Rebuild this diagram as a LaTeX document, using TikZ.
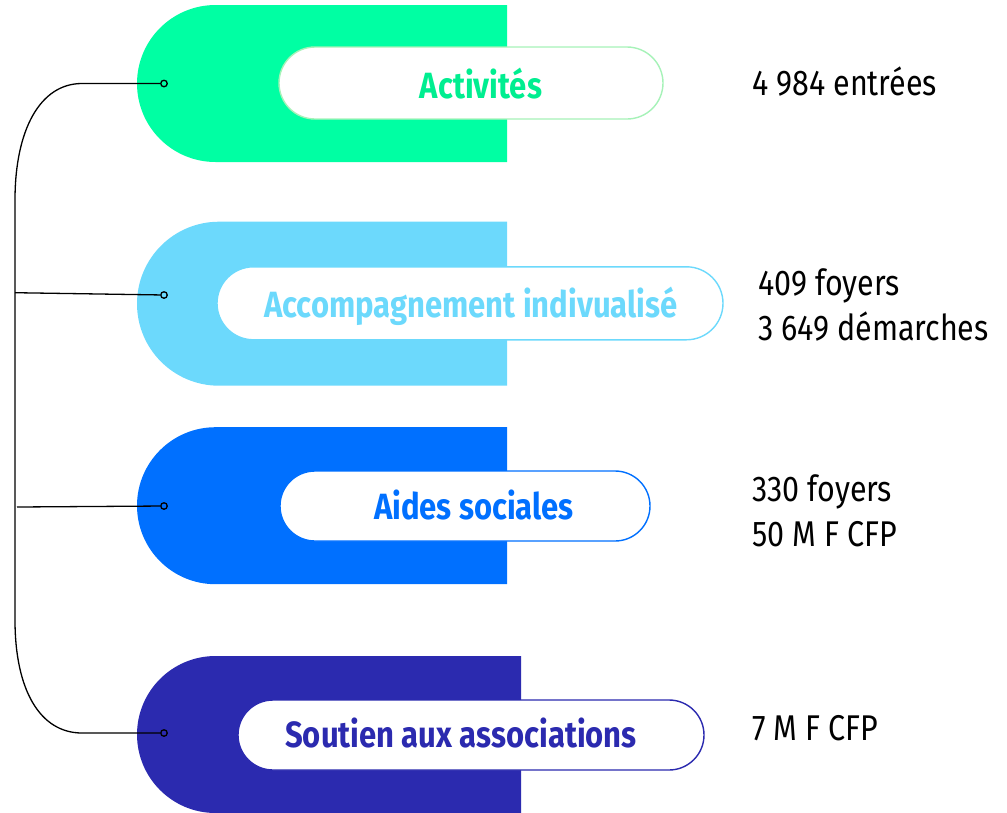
\documentclass[tikz,border=0pt]{standalone}
\usepackage{fontspec}
\setmainfont{Fira Sans}[FakeStretch=0.85]
\usetikzlibrary{shapes.misc}
\definecolor{cGreen}{HTML}{00FFA3}
\definecolor{cGreenT}{HTML}{00EE90}
\definecolor{cGreenL}{HTML}{A6F2B8}
\definecolor{cLight}{HTML}{6CD9FC}
\definecolor{cBlue}{HTML}{0070FF}
\definecolor{cDark}{HTML}{2B2AAF}
\tikzset{
  bigshape/.style={rounded rectangle, rounded rectangle right arc=none, inner sep=0pt, fill=#1, draw=none},
  pill/.style={rounded rectangle, inner sep=0pt, fill=white, draw=#1, line width=1.4pt},
  lab/.style={anchor=base, text=#1, font=\fontsize{36.5}{40}\selectfont\bfseries, inner sep=0pt},
  val/.style={anchor=base west, font=\fontsize{35.8}{45}\selectfont, inner sep=0pt, align=left},
  dot/.style={circle, draw=black, line width=1.3pt, inner sep=0pt, minimum size=6.5pt, fill=none},
  conn/.style={draw=black, line width=1.3pt}
}
\begin{document}
\begin{tikzpicture}[x=1pt,y=-1pt]
\useasboundingbox (0,0) rectangle (1007,812);
\clip (0,0) rectangle (1007,812);
% big shapes
\node[bigshape=cGreen, minimum width=370pt, minimum height=157pt] (s1) at (322,83.5) {};
\node[bigshape=cLight, minimum width=370pt, minimum height=164pt] (s2) at (322,303.7) {};
\node[bigshape=cBlue, minimum width=370pt, minimum height=157pt] (s3) at (322,505.7) {};
\node[bigshape=cDark, minimum width=384pt, minimum height=157pt] (s4) at (329,734.5) {};
% pills
\node[pill=cGreenL, minimum width=384pt, minimum height=72pt] (p1) at (471,83) {};
\node[pill=cLight, minimum width=506pt, minimum height=73pt] (p2) at (470,303.3) {};
\node[pill=cBlue, minimum width=370pt, minimum height=70pt] (p3) at (465,506) {};
\node[pill=cDark, minimum width=466pt, minimum height=70pt] (p4) at (471,735) {};
% labels
\node[lab=cGreenT] (l1) at (481,98) {Activités};
\node[lab=cLight] (l2) at (471,317.3) {Accompagnement indivualisé};
\node[lab=cBlue] (l3) at (474,519) {Aides sociales};
\node[lab=cDark] (l4) at (461,747.7) {Soutien aux associations};
% values
\node[val] (v1) at (752,95) {4 984 entrées};
\node[val] (v2) at (758,340) {409 foyers\\3 649 démarches};
\node[val] (v3) at (752,546.7) {330 foyers\\50 M F CFP};
\node[val] (v4) at (752,740.7) {7 M F CFP};
% dots
\node[dot] (d1) at (164,83.5) {};
\node[dot] (d2) at (164,295) {};
\node[dot] (d3) at (164,506) {};
\node[dot] (d4) at (164,733) {};
% trunk
\coordinate (t1) at (82,83.5);
\coordinate (t2) at (15,200);
\coordinate (t3) at (15,620);
\coordinate (t4) at (82,733);
\coordinate (b2) at (15,292.7);
\coordinate (b3) at (17,507);
\draw[conn] (d1) -- (t1) .. controls (40,83.5) and (15,130) .. (t2) -- (t3) .. controls (15,690) and (40,733) .. (t4) -- (d4);
\draw[conn] (b2) -- (d2);
\draw[conn] (b3) -- (d3);
\end{tikzpicture}
\end{document}
